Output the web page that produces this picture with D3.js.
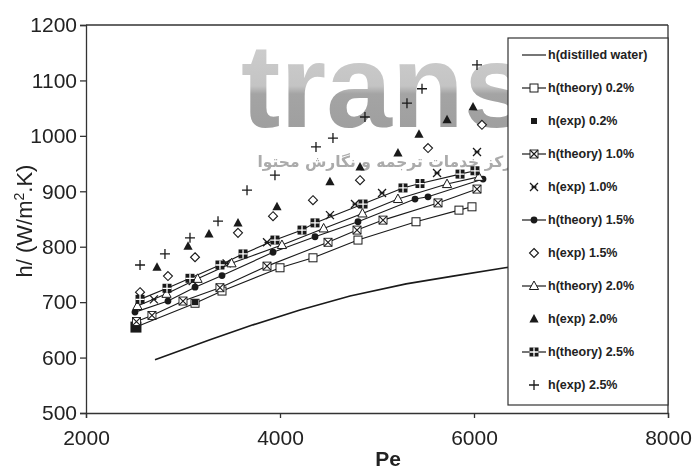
<!DOCTYPE html>
<html><head><meta charset="utf-8">
<script src="https://cdn.jsdelivr.net/npm/d3@7"></script>
<style>
html,body{margin:0;padding:0;background:#fff;}
svg{display:block;font-family:"Liberation Sans",Arial,sans-serif;}
</style></head>
<body>
<svg id="chart" width="693" height="469"></svg>
<script>
// ---- data (Pe, h) ----
const distilledWater = [[2711,596],[3278,632],[3722,659],[4206,686],[4722,711],[5300,733],[5784,747],[6320,762],[6700,770]];
const theory02 = [[2515,655],[3124,698],[3402,720],[4000,762],[4340,780],[4804,812],[5402,845],[5845,866],[5979,872]];
const exp02 = [[2515,655],[3124,700]];
const theory10 = [[2520,665],[2680,676],[3000,702],[3381,726],[3866,765],[4495,808],[4794,830],[5062,848],[5629,879],[6031,904]];
const exp10 = [[2700,705],[3100,738],[3450,770],[3866,808],[4515,857],[4773,877],[5052,897],[5619,933],[6031,971]];
const theory15 = [[2505,682],[2845,702],[3124,727],[3402,748],[3928,790],[4361,818],[4804,845],[5392,886],[5526,890],[6093,922]];
const exp15 = [[2557,718],[2845,747],[3124,781],[3567,825],[3928,855],[4340,884],[4825,920],[5526,978],[6082,1020]];
const theory20 = [[2530,693],[2830,715],[3150,742],[3500,770],[4020,803],[4450,833],[4850,860],[5216,886],[5722,913],[6050,926]];
const exp20 = [[2732,763],[3052,801],[3268,823],[3567,843],[3969,872],[4515,917],[4825,944],[5216,969],[5433,1003],[5722,1029],[5990,1052]];
const theory25 = [[2557,705],[2835,725],[3072,743],[3381,767],[3619,787],[3948,812],[4227,830],[4361,843],[4856,877],[5268,906],[5443,914],[5856,931],[6010,937]];
const exp25 = [[2557,767],[2814,787],[3072,816],[3361,846],[3660,902],[3948,929],[4371,980],[4546,996],[4876,1034],[5309,1059],[5464,1085],[6031,1128]];

const yTicks = [500,600,700,800,900,1000,1100,1200];
const xTicks = [2000,4000,6000,8000];
const legendLabels = ["h(distilled water)","h(theory) 0.2%","h(exp) 0.2%","h(theory) 1.0%","h(exp) 1.0%","h(theory) 1.5%","h(exp) 1.5%","h(theory) 2.0%","h(exp) 2.0%","h(theory) 2.5%","h(exp) 2.5%"];

const series = [
  {data: distilledWater, line:true, marker:null, lw:1.6},
  {data: theory02, line:true, marker:"sqOpen"},
  {data: exp02, line:false, marker:"sqFill"},
  {data: theory10, line:true, marker:"sqX"},
  {data: exp10, line:false, marker:"xMark"},
  {data: theory15, line:true, marker:"circFill"},
  {data: exp15, line:false, marker:"diamond"},
  {data: theory20, line:true, marker:"triOpen"},
  {data: exp20, line:false, marker:"triFill"},
  {data: theory25, line:true, marker:"grid"},
  {data: exp25, line:false, marker:"plus"}
];

const svg = d3.select("#chart");
const x = d3.scaleLinear().domain([2000,8000]).range([86,668]);
const y = d3.scaleLinear().domain([500,1200]).range([413,25]);
const ink = "#1a1a1a";

function marker(g, type, cx, cy, big) {
  const s = big ? 1.15 : 1;
  const t = g.append("g").attr("transform", `translate(${cx},${cy})`);
  switch(type){
    case "sqOpen": t.append("rect").attr("x",-4*s).attr("y",-4*s).attr("width",8*s).attr("height",8*s).attr("fill","#fff").attr("stroke",ink).attr("stroke-width",1); break;
    case "sqFill": { const h = big?5.5:3; t.append("rect").attr("x",-h).attr("y",-h).attr("width",2*h).attr("height",2*h).attr("fill",ink); break; }
    case "sqX":
      t.append("rect").attr("x",-4).attr("y",-4).attr("width",8).attr("height",8).attr("fill","#fff").attr("stroke",ink).attr("stroke-width",0.9);
      t.append("path").attr("d","M-4,-4L4,4M-4,4L4,-4").attr("stroke",ink).attr("stroke-width",1.1); break;
    case "xMark": t.append("path").attr("d","M-4,-4L4,4M-4,4L4,-4M-2.5,0L2.5,0").attr("stroke",ink).attr("stroke-width",1.3).attr("fill","none"); break;
    case "circFill": t.append("circle").attr("r",3.4).attr("fill",ink); break;
    case "diamond": t.append("path").attr("d","M0,-4.5L4.5,0L0,4.5L-4.5,0Z").attr("fill","#fff").attr("stroke",ink).attr("stroke-width",1.1); break;
    case "triOpen": t.append("path").attr("d","M0,-5L4.6,3.5L-4.6,3.5Z").attr("fill","#fff").attr("stroke",ink).attr("stroke-width",1); break;
    case "triFill": t.append("path").attr("d","M0,-5L4.6,3.5L-4.6,3.5Z").attr("fill",ink); break;
    case "grid":
      t.append("rect").attr("x",-4.5).attr("y",-4.5).attr("width",9).attr("height",9).attr("fill",ink);
      t.append("path").attr("d","M-4.5,0L4.5,0M0,-4.5L0,4.5").attr("stroke","#fff").attr("stroke-width",1.3); break;
    case "plus": t.append("path").attr("d","M-5,0L5,0M0,-5L0,5").attr("stroke",ink).attr("stroke-width",1.3); break;
  }
}

// axes
const yAxis = d3.axisLeft(y).tickValues(yTicks).tickSize(6).tickPadding(3).tickFormat(d3.format("d"));
const xAxis = d3.axisBottom(x).tickValues(xTicks).tickSize(5).tickPadding(12).tickFormat(d3.format("d"));
const gy = svg.append("g").attr("transform","translate(86,0)").call(yAxis);
const gx = svg.append("g").attr("transform","translate(0,413)").call(xAxis);
[gy,gx].forEach(g=>{
  g.selectAll("path,line").attr("stroke","#333").attr("stroke-width",1.3);
  g.selectAll("text").attr("font-size",21).attr("fill","#222").attr("font-family","'Liberation Sans',Arial,sans-serif");
});
// frame top & right
svg.append("line").attr("x1",x(2000)).attr("x2",x(8000)).attr("y1",y(1200)).attr("y2",y(1200)).attr("stroke","#333").attr("stroke-width",1.3);
svg.append("line").attr("x1",x(8000)).attr("x2",x(8000)).attr("y1",y(1200)).attr("y2",y(500)).attr("stroke","#333").attr("stroke-width",1.3);

// axis titles
svg.append("text").attr("x",388).attr("y",466).attr("text-anchor","middle").attr("font-size",21).attr("font-weight","bold").attr("fill","#222").text("Pe");
const yl = svg.append("text").attr("transform","translate(32,221) rotate(-90)").attr("text-anchor","middle").attr("font-size",22).attr("fill","#222");
yl.append("tspan").text("h/ (W/m");
yl.append("tspan").attr("dy",-8).attr("font-size",14).text("2");
yl.append("tspan").attr("dy",8).text(".K)");

// watermark (drawn beneath the data, blended)
const defs = svg.append("defs");
const gGray = defs.append("linearGradient").attr("id","wmGray").attr("x1",0).attr("x2",0).attr("y1",0).attr("y2",1);
gGray.append("stop").attr("offset","0%").attr("stop-color","#d2d2d2");
gGray.append("stop").attr("offset","50%").attr("stop-color","#c4c4c4");
gGray.append("stop").attr("offset","56%").attr("stop-color","#a4a4a4");
gGray.append("stop").attr("offset","100%").attr("stop-color","#9c9c9c");
const wm = svg.append("g").style("mix-blend-mode","multiply");
wm.append("text").attr("x",241).attr("y",127).attr("font-family","'Liberation Sans',Arial,sans-serif").attr("font-weight","bold")
  .attr("font-size",118).attr("fill","url(#wmGray)").text("trans");
wm.append("text").attr("x",390).attr("y",167).attr("text-anchor","middle").attr("font-family","'DejaVu Sans',sans-serif").attr("font-weight","bold")
  .attr("font-size",15.5).attr("fill","#ababab").text("مرکز خدمات ترجمه و نگارش محتوا");

// series
const lineGen = d3.line().x(d=>x(d[0])).y(d=>y(d[1]));
const plot = svg.append("g");
series.forEach(s=>{
  if(s.line) plot.append("path").datum(s.data).attr("d",lineGen).attr("fill","none").attr("stroke",ink).attr("stroke-width",s.lw||1.1);
});
series.forEach((s,i)=>{
  if(!s.marker) return;
  s.data.forEach((d,j)=>marker(plot, s.marker, x(d[0]), y(d[1]), s.marker==="sqFill" && j===0));
});

// legend
const lg = svg.append("g");
lg.append("rect").attr("x",508).attr("y",38).attr("width",668-508).attr("height",405-38).attr("fill","#fff").attr("stroke","#333").attr("stroke-width",1.2);
legendLabels.forEach((lab,i)=>{
  const ly = 55 + i*33;
  const s = series[i];
  if(s.line) lg.append("line").attr("x1",522).attr("x2",546).attr("y1",ly).attr("y2",ly).attr("stroke",ink).attr("stroke-width",1.2);
  if(s.marker) marker(lg, s.marker, 534, ly, false);
  lg.append("text").attr("x",548).attr("y",ly).attr("dy","0.35em").attr("font-size",12.5).attr("font-weight","bold").attr("fill","#222").text(lab);
});
</script>
</body></html>
